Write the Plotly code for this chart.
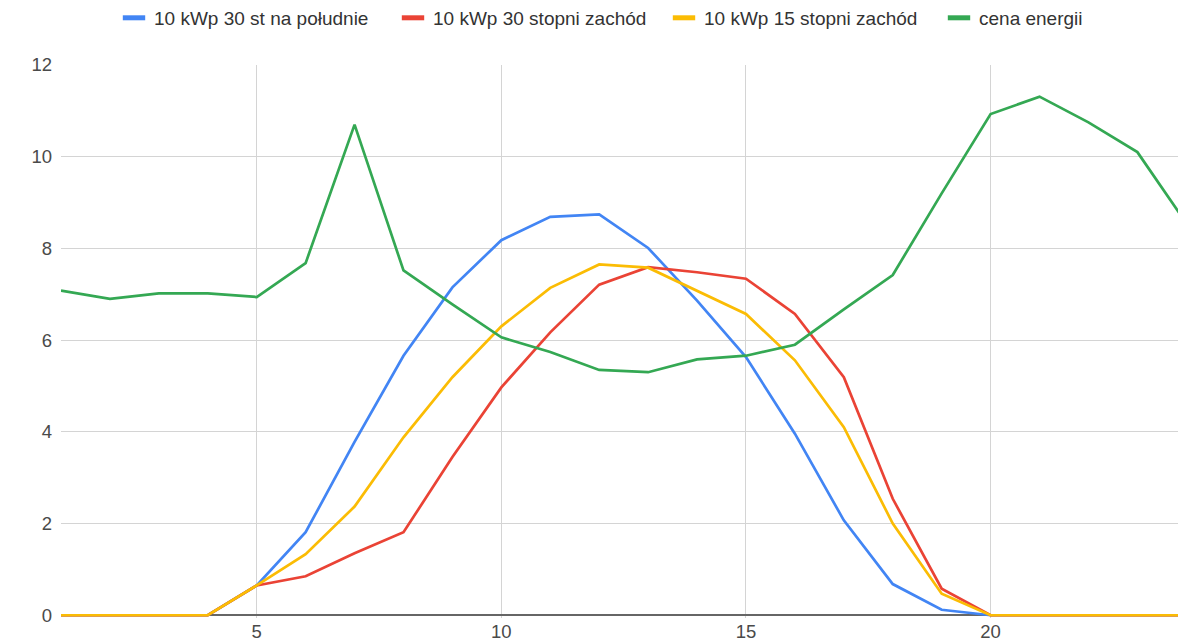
import plotly.graph_objects as go

hours = list(range(1, 25))

south_30 = [0, 0, 0, 0, 0.65, 1.81, 3.78, 5.66, 7.15, 8.18, 8.69, 8.74,
            8.01, 6.86, 5.63, 3.96, 2.07, 0.68, 0.12, 0, 0, 0, 0, 0]
west_30 = [0, 0, 0, 0, 0.65, 0.85, 1.35, 1.81, 3.45, 4.97, 6.17, 7.21,
           7.59, 7.48, 7.34, 6.57, 5.19, 2.54, 0.58, 0, 0, 0, 0, 0]
west_15 = [0, 0, 0, 0, 0.65, 1.33, 2.37, 3.88, 5.19, 6.30, 7.14, 7.65,
           7.58, 7.08, 6.57, 5.56, 4.10, 2.00, 0.47, 0, 0, 0, 0, 0]
price = [7.08, 6.90, 7.02, 7.02, 6.94, 7.68, 10.70, 7.52, 6.78, 6.06, 5.74, 5.35,
         5.30, 5.58, 5.66, 5.90, 6.67, 7.42, 9.20, 10.93, 11.31, 10.75, 10.10, 8.55]

series = [
    ("10 kWp 30 st na południe", south_30, "#4285F4"),
    ("10 kWp 30 stopni zachód", west_30, "#EA4335"),
    ("10 kWp 15 stopni zachód", west_15, "#FBBC04"),
    ("cena energii", price, "#34A853"),
]
legend_ids = ["legend", "legend2", "legend3", "legend4"]
swatch_left_px = [123, 402, 673, 948]

fig = go.Figure()
for name, vals, col in series:
    fig.add_trace(go.Scatter(x=hours, y=vals, mode="lines", name=name,
                             line=dict(color=col, width=2.7),
                             showlegend=False))
for (name, vals, col), lid in zip(series, legend_ids):
    fig.add_trace(go.Scatter(x=[None], y=[None], mode="markers", name=name,
                             legend=lid,
                             marker=dict(symbol="line-ew", size=18,
                                         line=dict(width=5, color=col))))

legends = {}
for lid, px in zip(legend_ids, swatch_left_px):
    legends[lid] = dict(orientation="h", xref="container", yref="container",
                        x=(px - 9) / 1178, xanchor="left",
                        y=0.972, yanchor="middle",
                        bgcolor="rgba(0,0,0,0)",
                        font=dict(size=19, color="#333"))

fig.update_layout(
    width=1178, height=641,
    margin=dict(l=61, r=0, t=64.5, b=23),
    paper_bgcolor="white", plot_bgcolor="white",
    font=dict(family="Liberation Sans, Arial, sans-serif", size=18.5, color="#444"),
    xaxis=dict(range=[1, 23.83], tick0=0, dtick=5, showgrid=True,
               gridcolor="#d4d4d4", gridwidth=1, zeroline=False,
               showline=False, ticks="", tickfont=dict(size=18.5, color="#4a4a4a")),
    yaxis=dict(range=[-0.06, 12], tick0=0, dtick=2, showgrid=True,
               gridcolor="#d4d4d4", gridwidth=1, zeroline=True,
               zerolinecolor="#666", zerolinewidth=2, showline=False,
               ticks="", ticklabelstandoff=8,
               tickfont=dict(size=18.5, color="#4a4a4a")),
    **legends,
)

fig.write_html("out.html")
